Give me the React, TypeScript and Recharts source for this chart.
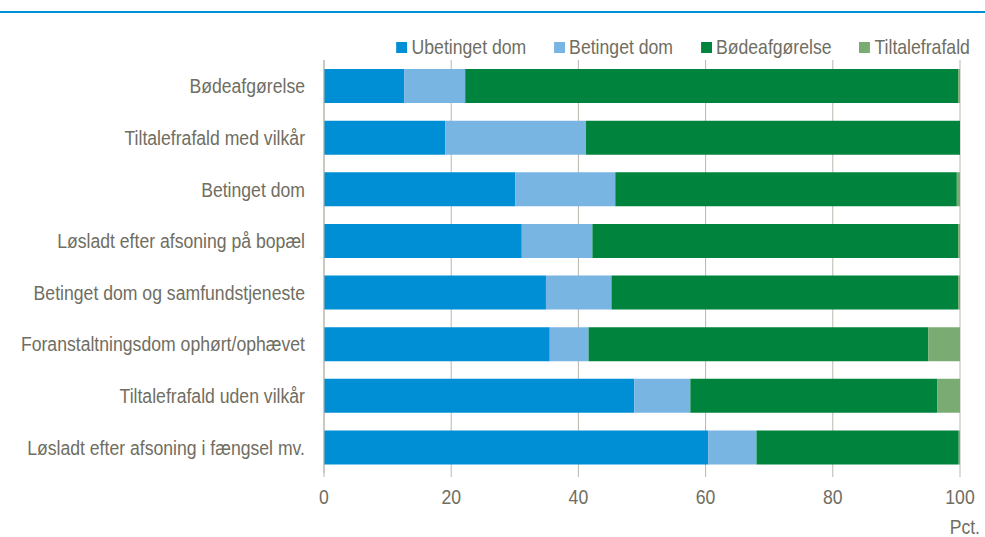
import React from 'react';
import { BarChart, Bar, XAxis, YAxis, CartesianGrid } from 'recharts';

const categories = [
  'Bødeafgørelse',
  'Tiltalefrafald med vilkår',
  'Betinget dom',
  'Løsladt efter afsoning på bopæl',
  'Betinget dom og samfundstjeneste',
  'Foranstaltningsdom ophørt/ophævet',
  'Tiltalefrafald uden vilkår',
  'Løsladt efter afsoning i fængsel mv.',
];

const ubetinget = [12.6, 19.1, 30.1, 31.1, 34.9, 35.5, 48.8, 60.4];
const betinget = [9.6, 22.1, 15.7, 11.1, 10.3, 6.1, 8.8, 7.6];
const boede = [77.5, 58.8, 53.7, 57.5, 54.5, 53.4, 38.8, 31.8];
const tiltale = [0.3, 0.0, 0.5, 0.3, 0.3, 5.0, 3.6, 0.2];

const xTicks = [0, 20, 40, 60, 80, 100];

const series = [
  { key: 'ubetinget', name: 'Ubetinget dom', color: '#008fd5' },
  { key: 'betinget', name: 'Betinget dom', color: '#78b5e3' },
  { key: 'boede', name: 'Bødeafgørelse', color: '#00843d' },
  { key: 'tiltale', name: 'Tiltalefrafald', color: '#7aab73' },
];

const data = categories.map((name, i) => ({
  name,
  ubetinget: ubetinget[i],
  betinget: betinget[i],
  boede: boede[i],
  tiltale: tiltale[i],
}));

// Arial Narrow look: Liberation Sans squeezed horizontally
const FONT = '"Liberation Sans", Arial, sans-serif';
const SQUEEZE = 0.84;
const TEXT = '#6f6e62';
const GRID = '#b9b7ac';

const NarrowText = ({ x, y, anchor, dy, children }: any) => (
  <g transform={`translate(${x},${y}) scale(${SQUEEZE},1)`}>
    <text x={0} y={0} dy={dy} textAnchor={anchor} fill={TEXT} fontFamily={FONT} fontSize={21}>
      {children}
    </text>
  </g>
);

const YTick = ({ x, y, payload }: any) => (
  <NarrowText x={x} y={y} anchor="end" dy="0.355em">
    {payload.value}
  </NarrowText>
);

const XTick = ({ x, y, payload }: any) => (
  <NarrowText x={x} y={y} anchor="middle" dy="0.71em">
    {payload.value}
  </NarrowText>
);

const PctLabel = (props: any) => {
  const vb = props.viewBox || {};
  return (
    <NarrowText x={vb.x + vb.width + 20} y={534} anchor="end" dy={0}>
      Pct.
    </NarrowText>
  );
};

const ChartLegend = () => (
  <div
    style={{
      position: 'absolute',
      left: 0,
      top: 34,
      width: 985,
      display: 'flex',
      justifyContent: 'flex-end',
      alignItems: 'center',
      paddingRight: 18,
      boxSizing: 'border-box',
      transform: `scaleX(${SQUEEZE})`,
      transformOrigin: 'right center',
      fontFamily: FONT,
      fontSize: 21,
      color: TEXT,
      lineHeight: '26px',
    }}
  >
    {series.map((s, i) => (
      <div key={s.key} style={{ display: 'flex', alignItems: 'center', marginLeft: i === 0 ? 0 : 33 }}>
        <span style={{ width: 13, height: 11, background: s.color, marginRight: 5, display: 'inline-block' }} />
        <span>{s.name}</span>
      </div>
    ))}
  </div>
);

export default function App() {
  return (
    <div style={{ position: 'absolute', left: 0, top: 0, width: 985, height: 537, background: '#fff' }}>
      <div style={{ position: 'absolute', left: 0, top: 11, width: 985, height: 2, background: '#0090d4' }} />
      <ChartLegend />
      <BarChart
        width={985}
        height={537}
        data={data}
        layout="vertical"
        barSize={34}
        margin={{ top: 60, right: 25, bottom: 0, left: 0 }}
      >
        <CartesianGrid horizontal={false} stroke={GRID} />
        <XAxis
          type="number"
          domain={[0, 100]}
          ticks={xTicks}
          axisLine={false}
          tickLine={{ stroke: GRID }}
          tickSize={4}
          tickMargin={12}
          height={64}
          tick={<XTick />}
          label={<PctLabel />}
        />
        <YAxis
          type="category"
          dataKey="name"
          width={324}
          axisLine={{ stroke: GRID }}
          tickLine={false}
          tickSize={0}
          tickMargin={19}
          tick={<YTick />}
          interval={0}
        />
        {series.map((s) => (
          <Bar key={s.key} dataKey={s.key} name={s.name} stackId="a" fill={s.color} isAnimationActive={false} />
        ))}
      </BarChart>
    </div>
  );
}
